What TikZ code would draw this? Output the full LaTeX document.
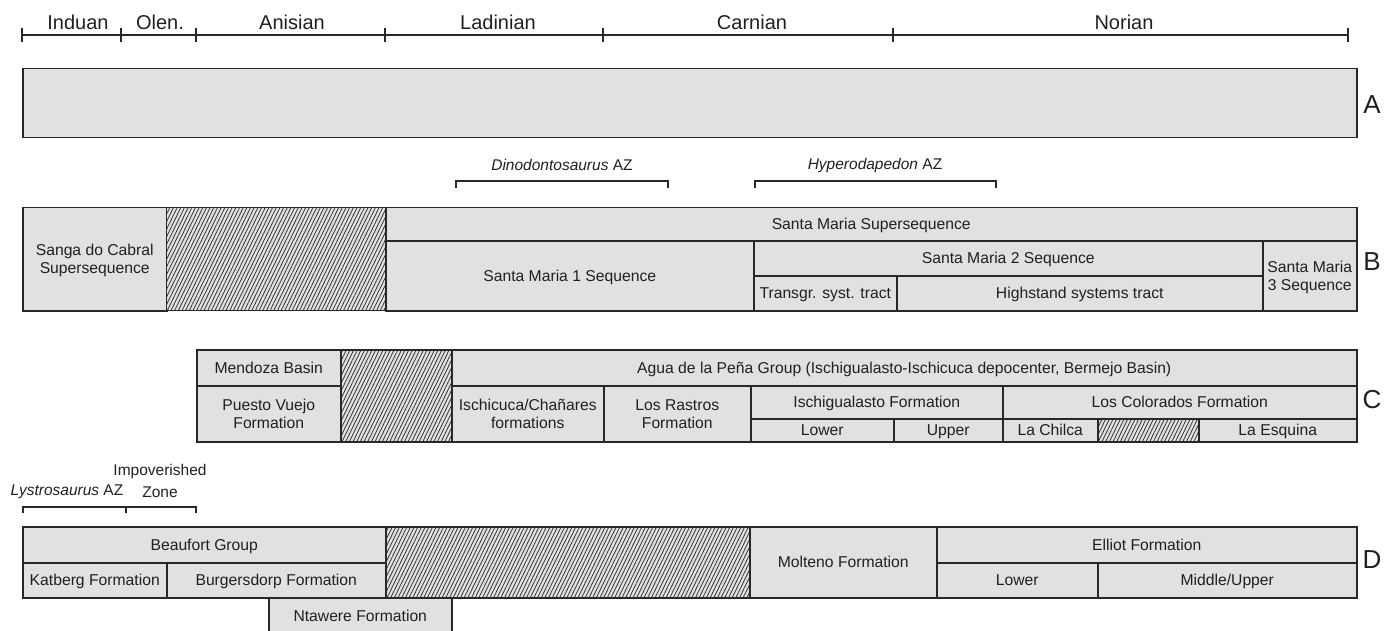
\documentclass[tikz,border=0pt]{standalone}
\usepackage{fontspec}
\setmainfont{Liberation Sans}
\usetikzlibrary{positioning, patterns.meta}
\definecolor{cellgray}{RGB}{225,225,225}
\definecolor{edgegray}{RGB}{40,40,40}
\definecolor{inkgray}{RGB}{35,31,32}
\definecolor{hatchgray}{RGB}{50,50,50}
\begin{document}
\begin{tikzpicture}[
    x=1pt, y=-1pt,
    cell/.style={rectangle, draw=edgegray, line width=1.5pt, fill=cellgray, inner sep=0pt, anchor=north west, align=center, text=inkgray,
        font=\fontsize{15.7}{18}\selectfont, text height=11pt, text depth=0pt},
    cell2/.style={cell, text height=29pt},
    gap/.style={cell, preaction={fill=cellgray}, pattern={Lines[angle=64, distance=3.3pt, line width=0.8pt]}, pattern color=hatchgray},
    size/.style 2 args={minimum width=#1pt, minimum height=#2pt},
    stage/.style={inner sep=0pt, text=inkgray, font=\fontsize{20}{24}\selectfont},
    zone/.style={inner sep=0pt, align=center, text=inkgray, font=\fontsize{15.5}{22}\selectfont},
    rowlabel/.style={inner sep=0pt, text=inkgray, font=\fontsize{26}{28}\selectfont},
    scale line/.style={draw=edgegray, line width=1.4pt},
    bracket/.style={draw=edgegray, line width=1.3pt}
]
    \useasboundingbox (0,0) rectangle (1400,631);
    \clip (0,0) rectangle (1400,631);

    % Stage scale
    \draw[scale line] (22,35) -- (1348,35);
    \foreach \t in {22,121,196,385,603,893,1348}
        \draw[scale line] (\t,28) -- (\t,42);
    \node[stage] (induan) at (78,22) {Induan};
    \node[stage] (olenek) at (160,22) {Olen.};
    \node[stage] (anisian) at (292,22) {Anisian};
    \node[stage] (ladinian) at (498,22) {Ladinian};
    \node[stage] (carnian) at (752,22) {Carnian};
    \node[stage] (norian) at (1124,22) {Norian};

    % Row A
    \node[cell, size={1334}{69}] (boxA) at (22,68) {};
    \node[rowlabel] (labA) at (1372,105) {A};

    % Row B
    \coordinate (dinoL) at (456,181);
    \coordinate (dinoR) at (668,181);
    \coordinate (hypeL) at (755,181);
    \coordinate (hypeR) at (996,181);
    \draw[bracket] (dinoL) ++(0,7) -- (dinoL) -- (dinoR) -- ++(0,7);
    \draw[bracket] (hypeL) ++(0,7) -- (hypeL) -- (hypeR) -- ++(0,7);
    \node[zone] (dino) at (562,165) {\textit{Dinodontosaurus} AZ};
    \node[zone] (hype) at (875,165) {\textit{Hyperodapedon} AZ};

    \node[cell2, size={144}{103}] (sanga) at (22,207) {Sanga do Cabral\\Supersequence};
    \node[gap, size={219}{103}] (gapB) at (166,207) {};
    \node[cell, size={971}{33}] (smsuper) at (385,207) {Santa Maria Supersequence};
    \node[cell, size={368}{70}] (sm1) at (385,240) {Santa Maria 1 Sequence};
    \node[cell, size={509}{35}] (sm2) at (753,240) {Santa Maria 2 Sequence};
    \node[cell, size={143}{35}] (transgr) at (753,275) {Transgr. syst. tract};
    \node[cell, size={366}{35}] (highstand) at (896,275) {Highstand systems tract};
    \node[cell2, size={94}{70}] (sm3) at (1262,240) {Santa Maria\\3 Sequence};
    \node[rowlabel] (labB) at (1372,262) {B};

    % Row C
    \node[cell, size={144}{36}] (mendoza) at (196,349) {Mendoza Basin};
    \node[cell2, size={144}{56}] (puesto) at (196,385) {Puesto Vuejo\\Formation};
    \node[gap, size={111}{92}] (gapC) at (340,349) {};
    \node[cell, size={905}{36}] (agua) at (451,349) {Agua de la Peña Group (Ischigualasto-Ischicuca depocenter, Bermejo Basin)};
    \node[cell2, size={152}{56}] (ischicuca) at (451,385) {Ischicuca/Chañares\\formations};
    \node[cell2, size={147}{56}] (rastros) at (603,385) {Los Rastros\\Formation};
    \node[cell, size={252}{33}] (ischig) at (750,385) {Ischigualasto Formation};
    \node[cell, size={143}{23}] (ischlow) at (750,418) {Lower};
    \node[cell, size={109}{23}] (ischup) at (893,418) {Upper};
    \node[cell, size={354}{33}] (colorados) at (1002,385) {Los Colorados Formation};
    \node[cell, size={95}{23}] (chilca) at (1002,418) {La Chilca};
    \node[gap, size={101}{23}] (gapCC) at (1097,418) {};
    \node[cell, size={158}{23}] (esquina) at (1198,418) {La Esquina};
    \node[rowlabel] (labC) at (1372,400) {C};

    % Row D
    \coordinate (lystL) at (23,507);
    \coordinate (lystM) at (126,507);
    \coordinate (lystR) at (196,507);
    \draw[bracket] (lystL) ++(0,6) -- (lystL) -- (lystR) -- ++(0,6);
    \draw[bracket] (lystM) -- ++(0,6);
    \node[zone] (lyst) at (67,492) {\textit{Lystrosaurus} AZ};
    \node[zone] (impov) at (160,481) {Impoverished\\Zone};

    \node[cell, size={363}{36}] (beaufort) at (22,526) {Beaufort Group};
    \node[cell, size={144}{35}] (katberg) at (22,562) {Katberg Formation};
    \node[cell, size={219}{35}] (burgers) at (166,562) {Burgersdorp Formation};
    \node[cell, size={183}{37}] (ntawere) at (268,597) {Ntawere Formation};
    \node[gap, size={364}{71}] (gapD) at (385,526) {};
    \node[cell, size={187}{71}] (molteno) at (749,526) {Molteno Formation};
    \node[cell, size={420}{36}] (elliot) at (936,526) {Elliot Formation};
    \node[cell, size={161}{35}] (elliotlow) at (936,562) {Lower};
    \node[cell, size={259}{35}] (elliotup) at (1097,562) {Middle/Upper};
    \node[rowlabel] (labD) at (1372,560) {D};
\end{tikzpicture}
\end{document}
